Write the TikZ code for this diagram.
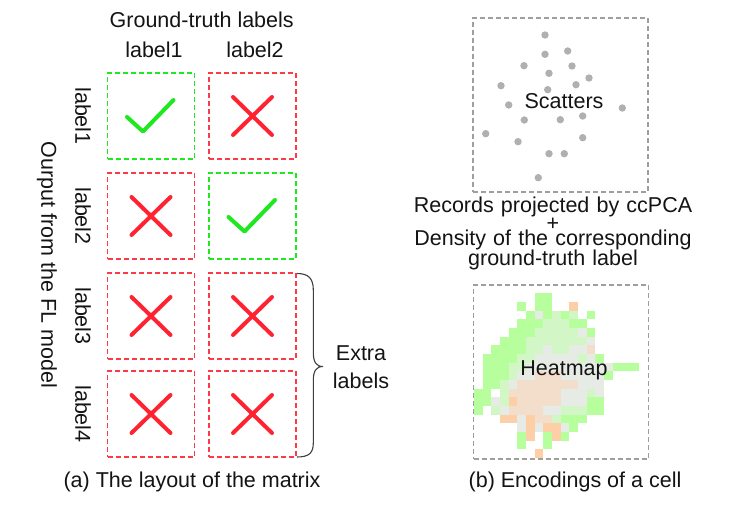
\documentclass[tikz,border=0pt]{standalone}
\usepackage{fontspec}
\setmainfont{Liberation Sans}
\begin{document}
\begin{tikzpicture}[x=1pt,y=-1pt,
  txt/.style={font=\fontsize{21.5}{24}\selectfont, text=black!92, inner sep=0pt},
  cellbox/.style={minimum width=87pt, minimum height=86pt, inner sep=0pt, outer sep=0pt, line width=1.4pt, dash pattern=on 5pt off 3pt},
  okcell/.style={cellbox, draw=okgreen},
  badcell/.style={cellbox, draw=badred!90},
  checkmk/.style={draw=okgreen, line width=4pt, line cap=round, line join=round},
  crossmk/.style={draw=badred, line width=4pt, line cap=round},
  panel/.style={draw=gray!75, line width=1.3pt, dash pattern=on 5pt off 3pt, minimum width=175pt, minimum height=174pt, inner sep=0pt},
  dot/.style={fill=gray!62, draw=none, circle, minimum size=7.4pt, inner sep=0pt},
  hmG/.style={fill={rgb,255:red,182;green,255;blue,156}},
  hmg/.style={fill={rgb,255:red,210;green,246;blue,198}},
  hmw/.style={fill={rgb,255:red,231;green,235;blue,230}},
  hmo/.style={fill={rgb,255:red,243;green,222;blue,204}},
  hmO/.style={fill={rgb,255:red,253;green,207;blue,166}},
]
\definecolor{okgreen}{RGB}{30,232,30}
\definecolor{badred}{RGB}{255,35,50}
\useasboundingbox[fill=white] (0,0) rectangle (747,508);

% ---------- (a) matrix ----------
\node[txt, anchor=base] (gt) at (201.7,28) {Ground-truth labels};
\node[txt, anchor=base] (col1) at (154,58) {label1};
\node[txt, anchor=base] (col2) at (255,58) {label2};

\node[okcell]  (c11) at (151,116) {};
\node[badcell] (c12) at (252.5,116) {};
\node[badcell] (c21) at (151,216) {};
\node[okcell]  (c22) at (252.5,216) {};
\node[badcell] (c31) at (151,316) {};
\node[badcell] (c32) at (252.5,316) {};
\node[badcell] (c41) at (151,414) {};
\node[badcell] (c42) at (252.5,414) {};

\foreach \n in {c11,c22}{
  \draw[checkmk] ([shift={(-24,1)}]\n.center) -- ([shift={(-8,15.5)}]\n.center) -- ([shift={(22.5,-16)}]\n.center);
}
\foreach \n in {c12,c21,c31,c32,c41,c42}{
  \draw[crossmk] ([shift={(-19.5,-19)}]\n.center) -- ([shift={(19.5,19)}]\n.center);
  \draw[crossmk] ([shift={(-19.5,19)}]\n.center) -- ([shift={(19.5,-19)}]\n.center);
}

\node[txt, rotate=-90] (r1) at (83,116) {label1};
\node[txt, rotate=-90] (r2) at (83,216) {label2};
\node[txt, rotate=-90] (r3) at (83,316) {label3};
\node[txt, rotate=-90] (r4) at (83,414) {label4};
\node[txt, rotate=-90] (ylab) at (47,265) {Ourput from the FL model};

% brace
\coordinate (bt) at (297,273.5);
\coordinate (bb) at (297,457);
\coordinate (btip) at (323,366.5);
\draw[black!75, line width=1.1pt] (bt) .. controls (309,273.5) and (313.3,279) .. (313.3,290)
  -- (313.3,352) .. controls (313.3,362) and (316,366.5) .. (btip)
  .. controls (316,366.5) and (313.3,371) .. (313.3,381)
  -- (313.3,443) .. controls (313.3,453) and (309,457) .. (bb);
\node[txt, anchor=base] (ex1) at (361,360) {Extra};
\node[txt, anchor=base] (ex2) at (361,388) {labels};

\node[txt, anchor=base] (capa) at (192,487) {(a) The layout of the matrix};

% ---------- (b) encodings ----------
\node[panel] (sc) at (560.5,105) {};
\foreach \px/\py in {545/35, 545/54.3, 567.7/51, 524/65.7, 572/66, 549/73.3, 589/78, 501/85.7,
  576/84.7, 547.7/89.7, 508.7/105, 622.3/108, 524.3/120, 560.3/119.7, 582.7/116, 485.7/133.7,
  518/141.7, 582.7/137.7, 549/153.7, 564.3/153.7, 538.3/177.7}{
  \node[dot] at (\px,\py) {};
}
\node[txt] (sct) at (564,100.7) {Scatters};

\node[txt, anchor=base, text width=330pt, align=center, font=\fontsize{21.5}{20.8}\selectfont] (desc) at (553,212.7)
  {Records projected by ccPCA\\[-3.5pt] +\\[-5pt] Density of the corresponding\\[-0.8pt] ground-truth label};

% heatmap cells
\foreach \r/\cells in {
 0/{7/G,8/G},
 1/{5/G,7/G,8/G,11/O},
 2/{6/G,7/w,8/G,9/g,10/G,11/g,13/G},
 3/{5/G,6/G,7/G,8/g,9/g,10/g,11/G,12/G},
 4/{4/G,5/G,6/G,7/g,8/g,9/g,10/g,11/g,12/w,13/G},
 5/{3/G,4/G,5/G,6/g,7/g,8/g,9/g,10/g,11/g,12/g,13/w},
 6/{2/G,3/G,4/G,5/G,6/g,7/g,8/w,9/g,10/g,11/w,12/w,13/o},
 7/{1/G,2/G,3/G,4/G,5/g,6/g,7/w,8/w,9/w,10/w,11/w,12/g,13/w,14/G},
 8/{1/G,2/G,3/G,4/g,5/g,6/w,7/w,8/w,9/w,10/w,11/w,12/w,13/w,14/w,15/w,16/G,17/G,18/G},
 9/{1/G,2/G,3/G,4/g,5/w,6/w,7/o,8/o,9/o,10/w,11/w,12/w,13/w,14/w,15/G},
 10/{1/G,2/G,3/g,4/w,5/o,6/o,7/o,8/o,9/o,10/o,11/o,12/w,13/w,14/w},
 11/{0/G,1/G,3/g,4/o,5/o,6/o,7/o,8/o,9/o,10/w,11/w,12/w,13/g,14/w},
 12/{0/G,1/G,2/w,3/g,4/O,5/o,6/o,7/o,8/o,9/o,10/w,11/w,12/w,13/G,14/G},
 13/{0/G,2/g,3/w,4/o,5/o,6/o,7/o,8/w,9/w,10/g,11/g,12/g,13/G,14/G},
 14/{3/O,4/O,5/w,6/O,7/o,8/o,9/g,10/G,11/G,12/G},
 15/{5/w,6/O,7/w,8/O,9/O,10/w,11/G},
 16/{5/G,6/O,8/G,9/O,10/G},
 17/{5/G,8/G},
 18/{7/O}}{
  \foreach \c/\k in \cells {
    \fill[hm\k] (474+8.667*\c, 293.3+8.667*\r) rectangle ++(8.667,8.667);
  }
}
\node[panel] (hm) at (561,372) {};
\node[txt] (hmt) at (564,370.7) {Heatmap};

\node[txt, anchor=base] (capb) at (575,487) {(b) Encodings of a cell};
\end{tikzpicture}
\end{document}
